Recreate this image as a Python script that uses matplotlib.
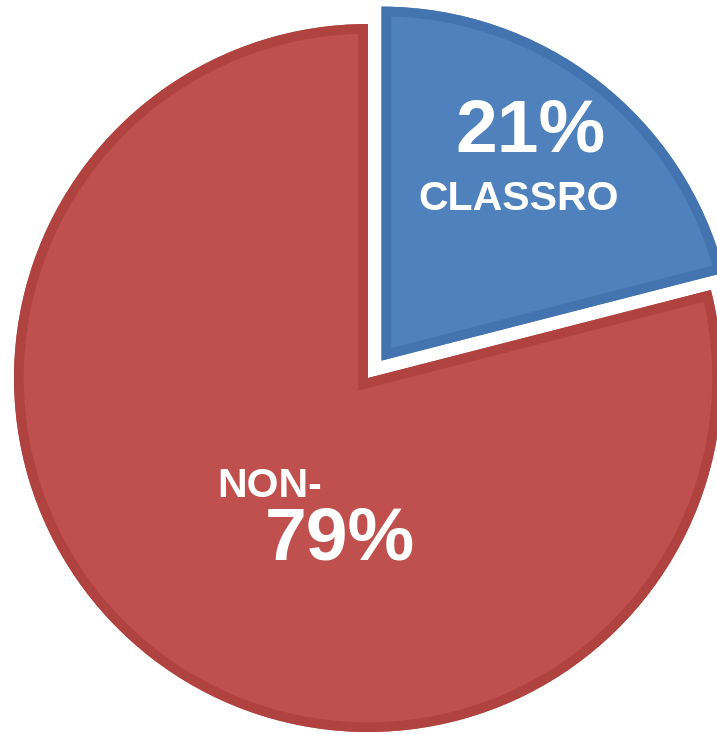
import matplotlib.pyplot as plt
from matplotlib.patches import Wedge

# Slice data
labels = ["CLASSRO", "NON-"]
values = [21, 79]
colors = ["#4F81BD", "#C0504D"]
border_colors = ["#4474B0", "#B0433F"]
explode = [22, 0]  # pie() offsets in data units (pixels here)

W, H = 717, 734
fig = plt.figure(figsize=(W / 100, H / 100), dpi=100)
ax = fig.add_axes([0, 0, 1, 1])

# pie drawn in pixel coords (y up)
center = (368, H - 378)
radius = 354
wedges, _ = ax.pie(values, colors=colors, explode=explode, startangle=90,
                   counterclock=False, center=center, radius=radius,
                   wedgeprops=dict(edgecolor="white", linewidth=0))

# pie() resets the limits, so set them afterwards
ax.set_xlim(0, W)
ax.set_ylim(0, H)
ax.set_aspect("equal")
ax.axis("off")

# darker inner band along each slice edge, clipped to the slice itself
for w, bc in zip(wedges, border_colors):
    band = Wedge(w.center, w.r, w.theta1, w.theta2, facecolor="none",
                 edgecolor=bc, linewidth=14)
    ax.add_patch(band)
    band.set_clip_path(w)

font = ["Liberation Sans", "DejaVu Sans"]

# labels (image rows converted to y-up)
ax.text(530, H - 132, f"{values[0]}%", color="white", fontsize=54,
        fontweight="bold", family=font, ha="center", va="center")
ax.text(519, H - 199, labels[0], color="white", fontsize=29.5,
        fontweight="bold", family=font, ha="center", va="center")
ax.text(270, H - 486, labels[1], color="white", fontsize=29.5,
        fontweight="bold", family=font, ha="center", va="center")
ax.text(340, H - 540, f"{values[1]}%", color="white", fontsize=54,
        fontweight="bold", family=font, ha="center", va="center")

fig.savefig("out.png", dpi=100)
